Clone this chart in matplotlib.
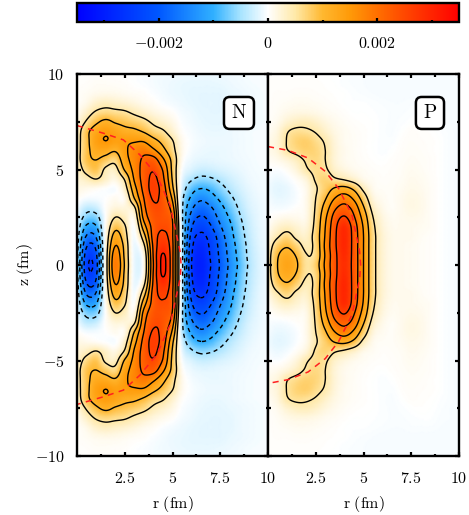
import numpy as np
import matplotlib
matplotlib.use('Agg')
import matplotlib.pyplot as plt
from matplotlib.colors import LinearSegmentedColormap, Normalize
from matplotlib.cm import ScalarMappable

plt.rcParams['mathtext.fontset'] = 'cm'
plt.rcParams['font.family'] = 'cmr10'
plt.rcParams['axes.unicode_minus'] = False
plt.rcParams['axes.formatter.use_mathtext'] = True

# density on a half plane, in units of 1e-3, rows are z, columns are r
r_grid = [0, .5, 1, 1.5, 2, 2.5, 3, 3.5, 4, 4.5, 5, 5.5, 6, 6.5, 7, 7.5, 8, 8.5, 9, 9.5, 10]
z_grid = [0, .5, 1, 1.5, 2, 2.5, 3, 3.5, 4, 4.5, 5, 5.5, 6, 6.5, 7, 7.5, 8, 8.5, 9, 9.5, 10]

neutrons = [
    [-.35, -2.35, -2.2, .2, 1.85, .95, -.1, .1, 2.0, 3.1, 2.1, -.35, -2.5, -2.95, -2.5, -1.95, -1.4, -.9, -.45, -.2, -.08],
    [-.35, -2.25, -2.1, .2, 1.75, .9, -.1, .15, 2.05, 3.05, 2.1, -.35, -2.45, -2.9, -2.45, -1.9, -1.35, -.85, -.42, -.2, -.08],
    [-.3, -1.95, -1.85, .15, 1.5, .85, -.1, .4, 2.1, 2.8, 2.1, -.35, -2.35, -2.8, -2.4, -1.85, -1.3, -.8, -.4, -.18, -.08],
    [-.25, -1.55, -1.45, .1, 1.2, .7, -.05, .8, 2.2, 2.6, 2.05, -.35, -2.2, -2.6, -2.3, -1.75, -1.2, -.72, -.36, -.16, -.08],
    [-.2, -1.1, -1.05, .05, .85, .55, 0, 1.25, 2.2, 2.45, 2.05, -.35, -1.95, -2.35, -2.05, -1.55, -1.1, -.65, -.32, -.15, -.07],
    [-.15, -.65, -.65, 0, .5, .35, .15, 1.65, 2.3, 2.35, 1.95, -.4, -1.7, -2.05, -1.8, -1.35, -.95, -.55, -.28, -.13, -.07],
    [-.05, -.35, -.3, .02, .2, .2, .42, 1.85, 2.4, 2.35, 1.7, -.4, -1.4, -1.75, -1.55, -1.15, -.78, -.45, -.22, -.12, -.06],
    [.05, -.05, -.05, 0, .08, .1, 1.0, 2.0, 2.55, 2.3, 1.4, -.35, -1.1, -1.4, -1.2, -.9, -.6, -.35, -.18, -.1, -.06],
    [.15, .1, .05, 0, -.03, .3, 1.3, 2.15, 2.65, 2.25, 1.1, -.2, -.8, -1.0, -.9, -.65, -.42, -.25, -.14, -.08, -.05],
    [.2, .35, .5, .3, .15, .55, 1.55, 2.2, 2.6, 2.1, .95, -.1, -.45, -.6, -.55, -.42, -.28, -.18, -.1, -.07, -.05],
    [.25, .65, .85, .42, .35, 1.05, 1.65, 2.2, 2.45, 1.95, .88, 0, -.2, -.3, -.28, -.22, -.17, -.12, -.08, -.06, -.04],
    [.3, .85, 1.0, .8, .65, 1.3, 1.7, 2.1, 2.2, 1.6, .85, .08, -.1, -.15, -.15, -.13, -.11, -.09, -.07, -.05, -.04],
    [.3, .85, 1.2, 1.2, 1.05, 1.4, 1.7, 1.85, 1.6, 1.15, .65, .12, -.05, -.1, -.12, -.12, -.1, -.08, -.06, -.05, -.04],
    [.3, .85, 1.35, 1.5, 1.38, 1.42, 1.45, 1.45, 1.15, .85, .52, .1, -.03, -.08, -.1, -.1, -.1, -.08, -.06, -.05, -.04],
    [.25, .85, 1.25, 1.42, 1.3, 1.15, 1.1, .95, .7, .55, .28, .03, -.05, -.1, -.12, -.12, -.1, -.08, -.06, -.05, -.04],
    [.15, .55, .9, 1.1, .95, .85, .75, .62, .42, .28, .14, -.02, -.08, -.12, -.14, -.14, -.12, -.1, -.08, -.06, -.05],
    [.05, .3, .55, .65, .6, .55, .42, .3, .18, .1, .03, -.06, -.1, -.14, -.15, -.15, -.14, -.1, -.08, -.06, -.05],
    [.02, .12, .28, .35, .3, .25, .18, .1, .05, -.02, -.06, -.1, -.13, -.15, -.15, -.15, -.14, -.1, -.08, -.06, -.05],
    [.03, .06, .1, .12, .11, .08, .05, .03, -.02, -.06, -.1, -.12, -.14, -.15, -.15, -.15, -.12, -.1, -.08, -.06, -.05],
    [.02, .03, .05, .05, .04, .03, 0, -.02, -.05, -.08, -.1, -.12, -.13, -.13, -.13, -.12, -.1, -.08, -.06, -.05, -.04],
    [.01, .02, .03, .03, .02, .01, -.01, -.03, -.05, -.07, -.08, -.09, -.1, -.1, -.1, -.09, -.08, -.07, -.05, -.04, -.03],
]

protons = [
    [.3, 1.0, 1.3, 1.05, .55, .75, 1.6, 2.35, 2.85, 2.3, 1.5, .65, .25, .12, .1, .08, .05, .03, 0, -.03, -.05],
    [.3, .95, 1.2, .95, .52, .65, 1.55, 2.35, 2.9, 2.3, 1.5, .65, .25, .12, .1, .08, .05, .03, 0, -.03, -.05],
    [.25, .75, .95, .7, .4, .65, 1.6, 2.4, 2.95, 2.3, 1.5, .65, .25, .12, .1, .08, .05, .03, 0, -.03, -.05],
    [.15, .45, .65, .4, .3, .7, 1.55, 2.4, 2.95, 2.3, 1.5, .65, .25, .12, .1, .1, .06, .03, 0, -.03, -.05],
    [.05, .25, .35, .25, .2, .65, 1.5, 2.35, 2.9, 2.25, 1.45, .6, .22, .1, .1, .1, .08, .05, 0, -.03, -.05],
    [0, .08, .12, .1, .12, .6, 1.4, 2.2, 2.55, 2.05, 1.3, .5, .18, .08, .1, .12, .1, .05, 0, -.03, -.05],
    [-.03, -.05, -.03, .02, .1, .55, 1.2, 1.9, 2.15, 1.8, 1.05, .35, .12, .05, .1, .15, .12, .05, 0, -.03, -.05],
    [-.05, -.12, -.1, -.03, .1, .5, .95, 1.5, 1.75, 1.4, .75, .2, .08, .05, .1, .15, .12, .05, 0, -.03, -.05],
    [-.08, -.15, -.12, -.02, .1, .45, .75, 1.05, 1.15, .9, .4, .1, .05, .05, .08, .12, .1, .05, 0, -.03, -.05],
    [-.05, -.1, -.05, .05, .2, .55, .7, .55, .45, .3, .12, .06, .03, .04, .06, .1, .08, .04, 0, -.03, -.05],
    [0, -.02, .05, .2, .45, .6, .55, .3, .18, .1, .06, .03, .02, .03, .05, .08, .06, .03, 0, -.03, -.05],
    [.05, .1, .2, .35, .55, .65, .5, .22, .1, .06, .03, .01, 0, .02, .04, .06, .05, .03, 0, -.03, -.05],
    [.1, .2, .48, .62, .72, .68, .5, .22, .1, .05, .02, 0, -.02, 0, .03, .05, .04, .02, 0, -.03, -.05],
    [.1, .22, .52, .7, .75, .62, .45, .2, .08, .05, .02, 0, -.02, -.02, .02, .04, .03, .02, 0, -.03, -.05],
    [.05, .18, .47, .58, .56, .47, .3, .15, .08, .04, .02, 0, -.02, -.03, 0, .03, .02, .01, -.01, -.03, -.05],
    [.03, .1, .25, .35, .38, .3, .18, .1, .05, .02, .01, 0, -.02, -.03, -.02, 0, .01, 0, -.02, -.04, -.05],
    [.02, .06, .12, .16, .16, .13, .08, .05, .02, 0, 0, -.01, -.02, -.03, -.03, -.02, -.01, -.01, -.03, -.04, -.05],
    [.02, .04, .06, .08, .08, .06, .04, .02, 0, -.01, -.01, -.02, -.03, -.04, -.04, -.03, -.03, -.03, -.04, -.05, -.05],
    [.02, .03, .03, .04, .04, .03, .02, .01, 0, -.02, -.03, -.04, -.05, -.05, -.05, -.05, -.05, -.05, -.05, -.05, -.05],
    [.02, .02, .02, .02, .02, .02, .01, 0, -.02, -.03, -.04, -.05, -.05, -.05, -.05, -.05, -.05, -.05, -.05, -.05, -.04],
    [.01, .01, .01, .01, .01, .01, 0, -.01, -.02, -.03, -.04, -.04, -.05, -.05, -.05, -.05, -.05, -.05, -.04, -.04, -.03],
]

# half density surfaces (upper half, mirrored when drawn)
surf_n_r = [0, 1.38, 2.43, 3.3, 4.17, 4.87, 5.4, 5.45]
surf_n_z = [7.3, 6.9, 6.55, 5.76, 4.7, 3.14, .7, 0]
surf_p_r = [0, 1.06, 2.1, 3, 3.7, 4.4, 4.8, 4.85]
surf_p_z = [6.2, 6, 5.6, 4.9, 4, 2.6, .7, 0]

levels = [-2.5, -2, -1.5, -1, -.5, .5, 1, 1.5, 2, 2.5, 3]

cmap_stops = [(-3.5, '#0000ff'), (-2, '#0058ff'), (-1, '#30b0ff'), (-.5, '#a8e4ff'), (0, '#ffffff'),
              (.5, '#ffe9a8'), (1, '#ffb830'), (1.5, '#ff9a08'), (2, '#ff7000'), (2.5, '#ff4800'), (3.5, '#ff0000')]
cmap = LinearSegmentedColormap.from_list('dens', [((v + 3.5) / 7, c) for v, c in cmap_stops], N=512)
norm = Normalize(-3.5, 3.5)

W, H = 469, 515
def box(x0, y0, x1, y1):
    return [x0 / W, 1 - y1 / H, (x1 - x0) / W, (y1 - y0) / H]

fig = plt.figure(figsize=(W / 100, H / 100), dpi=100)
ax1 = fig.add_axes(box(77, 74, 268, 456))
ax2 = fig.add_axes(box(268, 74, 459, 456))
cax = fig.add_axes(box(77, 2.5, 459, 22))


# smooth the table for drawing, catmull-rom along one axis
def smooth(a, n):
    a = np.vstack([2 * a[0] - a[1], a, 2 * a[-1] - a[-2]])
    t = np.arange(0, (len(a) - 3) * n + 1) / n
    i = np.minimum(t.astype(int), len(a) - 4)
    t = (t - i)[:, None]
    p0, p1, p2, p3 = a[i], a[i + 1], a[i + 2], a[i + 3]
    return .5 * (2 * p1 + (p2 - p0) * t + (2 * p0 - 5 * p1 + 4 * p2 - p3) * t ** 2 + (3 * p1 - p0 - 3 * p2 + p3) * t ** 3)


def draw_panel(ax, table, sr, sz, name):
    half = np.array(table)
    full = np.vstack([half[:0:-1], half])
    zz = np.concatenate([-np.array(z_grid)[:0:-1], z_grid])
    n = 8
    fine = smooth(smooth(full, n).T, n).T
    rf = np.linspace(r_grid[0], r_grid[-1], fine.shape[1])
    zf = np.linspace(zz[0], zz[-1], fine.shape[0])
    ax.pcolormesh(rf, zf, fine, shading='gouraud', cmap=cmap, norm=norm)
    cs = ax.contour(rf, zf, fine, levels=levels, colors='k', linewidths=1.0)
    cs.set_linestyles([(0, (3, 2.6)) if l < 0 else 'solid' for l in cs.levels])
    rr = np.concatenate([sr, sr[-2::-1]])
    zs = np.concatenate([sz, -np.array(sz)[-2::-1]])
    ax.plot(rr, zs, color='#ff2020', lw=1.1, dashes=(4, 3.5))
    ax.set_xlim(0, 10)
    ax.set_ylim(-10, 10)
    ax.set_xticks([2.5, 5, 7.5, 10])
    ax.set_xticklabels(['$2.5$', '$5$', '$7.5$', '$10$'], fontsize=11.5)
    ax.set_xticks([1.25, 3.75, 6.25, 8.75], minor=True)
    ax.set_yticks([-10, -5, 0, 5, 10])
    ax.set_yticks([-7.5, -2.5, 2.5, 7.5], minor=True)
    ax.tick_params(which='major', direction='in', length=3.2, width=1.6, top=True, right=True, pad=10.5)
    ax.tick_params(which='minor', direction='in', length=1.8, width=1.6, top=True, right=True)
    for s in ax.spines.values():
        s.set_linewidth(1.7)
    ax.set_xlabel(r'$\mathrm{r\ (fm)}$', fontsize=11.5, labelpad=6)
    ax.text(8.48, 7.96, '$\\mathrm{%s}$' % name, fontsize=14, ha='center', va='center', zorder=6,
            bbox=dict(boxstyle='round,pad=0.36,rounding_size=0.3', fc='white', ec='k', lw=1.8))


draw_panel(ax1, neutrons, surf_n_r, surf_n_z, 'N')
draw_panel(ax2, protons, surf_p_r, surf_p_z, 'P')

ax1.set_yticklabels(['$-10$', '$-5$', '$0$', '$5$', '$10$'], fontsize=11.5)
ax1.tick_params(axis='y', which='major', pad=9)
ax1.set_ylabel(r'$\mathrm{z\ (fm)}$', fontsize=11.5, labelpad=0)
ax2.tick_params(labelleft=False)

cb = fig.colorbar(ScalarMappable(norm=norm, cmap=cmap), cax=cax, orientation='horizontal')
cb.set_ticks([-2, 0, 2])
cb.set_ticklabels(['$-0.002$', '$0$', '$0.002$'], fontsize=11.5)
cb.set_ticks([-3, -1, 1, 3], minor=True)
cb.ax.tick_params(which='major', direction='in', length=3.2, width=1.6, pad=10, bottom=True, top=False)
cb.ax.tick_params(which='minor', direction='in', length=1.8, width=1.6, bottom=True, top=False)
cb.outline.set_linewidth(1.7)

fig.savefig('out.png', dpi=100)
